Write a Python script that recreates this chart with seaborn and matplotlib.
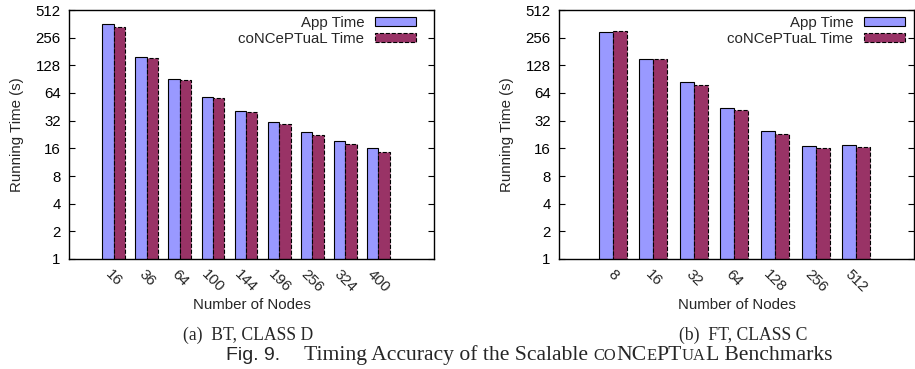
import pandas as pd
import seaborn as sns
import matplotlib
matplotlib.use('Agg')
import matplotlib.pyplot as plt
import matplotlib.patches as mpatches

# (a) BT, CLASS D
bt_nodes = ['16', '36', '64', '100', '144', '196', '256', '324', '400']
bt_app = [360, 158, 90, 58, 41, 31.1, 24, 19.4, 16.0]
bt_cnc = [334, 152, 87.6, 56, 39.3, 29.3, 22.6, 17.9, 14.6]

# (b) FT, CLASS C
ft_nodes = ['8', '16', '32', '64', '128', '256', '512']
ft_app = [294, 150, 84, 43.7, 24.4, 16.9, 17.6]
ft_cnc = [300, 150, 79, 42, 23.2, 16.3, 16.6]

series_names = ['App Time', 'coNCePTuaL Time']
y_ticks = [1, 2, 4, 8, 16, 32, 64, 128, 256, 512]

app_color = '#9999ff'
cnc_color = '#993366'

sns.set_theme(style="ticks")
plt.rcParams['font.family'] = ['Liberation Sans', 'DejaVu Sans']
FS = 10.8


def long_df(nodes, app, cnc):
    rows = []
    for n, a, c in zip(nodes, app, cnc):
        rows.append({'nodes': n, 'series': series_names[0], 'time': a})
        rows.append({'nodes': n, 'series': series_names[1], 'time': c})
    return pd.DataFrame(rows)


def draw(ax, nodes, app, cnc, xlim, leg_x, ylab_x):
    df = long_df(nodes, app, cnc)
    sns.barplot(data=df, x='nodes', y='time', hue='series', order=nodes,
                hue_order=series_names, palette=[app_color, cnc_color],
                width=0.69, errorbar=None, ax=ax, legend=False,
                saturation=1)
    for cont, ls in zip(ax.containers, ['-', '--']):
        for p in cont:
            p.set_edgecolor('black')
            p.set_linewidth(0.8)
            p.set_linestyle(ls)
    ax.set_yscale('log', base=2)
    ax.set_ylim(1, 512)
    ax.set_yticks(y_ticks)
    ax.set_yticklabels([str(v) for v in y_ticks], fontsize=FS)
    ax.minorticks_off()
    ax.set_xlim(*xlim)
    ax.set_axisbelow(True)
    ax.tick_params(axis='y', direction='in', length=4, width=0.8,
                   right=True, pad=6, colors='black')
    ax.tick_params(axis='x', length=0, pad=6)
    for lab in ax.get_xticklabels():
        lab.set_rotation(-45)
        lab.set_ha('center')
        lab.set_va('top')
        lab.set_fontsize(FS)
    for s in ax.spines.values():
        s.set_visible(True)
        s.set_linewidth(1.0)
        s.set_color('black')
    ax.set_xlabel('Number of Nodes', fontsize=FS)
    ax.set_ylabel('Running Time (s)', fontsize=FS)
    ax.xaxis.set_label_coords(0.5, -0.157)
    ax.yaxis.set_label_coords(ylab_x, 0.5)
    handles = [
        mpatches.Patch(facecolor=app_color, edgecolor='black', linewidth=0.8,
                       linestyle='-', label=series_names[0]),
        mpatches.Patch(facecolor=cnc_color, edgecolor='black', linewidth=0.8,
                       linestyle='--', label=series_names[1]),
    ]
    ax.legend(handles=handles, loc='upper right', bbox_to_anchor=(leg_x, 0.975),
              frameon=False, markerfirst=False, fontsize=FS, borderpad=0,
              borderaxespad=0, handlelength=2.75, handleheight=0.55,
              handletextpad=0.7, labelspacing=0.12)


fig = plt.figure(figsize=(9.15, 3.69), dpi=100)
ax1 = fig.add_axes([69 / 915, 110 / 369, 365 / 915, 249 / 369])
ax2 = fig.add_axes([559 / 915, 110 / 369, 355 / 915, 249 / 369])

draw(ax1, bt_nodes, bt_app, bt_cnc, (-1.35, 9.68), 0.951, -0.123)
draw(ax2, ft_nodes, ft_app, ft_cnc, (-1.33, 7.43), 0.975, -0.127)

serif = ['Liberation Serif', 'DejaVu Serif']
fig.text(248 / 915, 1 - 340 / 369, '(a)  BT, CLASS D', family=serif,
         fontsize=12.7, ha='center', va='baseline')
fig.text(743 / 915, 1 - 340 / 369, '(b)  FT, CLASS C', family=serif,
         fontsize=12.7, ha='center', va='baseline')

# caption: sans "Fig. 9." then serif text with small caps for the name
renderer = fig.canvas.get_renderer()
base_y = 1 - 360 / 369
fig.text(226 / 915, base_y, 'Fig. 9.', family=['Liberation Sans'],
         fontsize=14, ha='left', va='baseline')
pieces = [
    ('Timing Accuracy of the Scalable ', 15.6),
    ('CO', 11.9),
    ('NC', 15.6),
    ('E', 11.9),
    ('PT', 15.6),
    ('UA', 11.9),
    ('L', 15.6),
    (' Benchmarks', 15.6),
]
x_px = 304
for txt, size in pieces:
    t = fig.text(x_px / 915, base_y, txt, family=serif, fontsize=size,
                 ha='left', va='baseline')
    x_px += t.get_window_extent(renderer).width

fig.savefig('out.png', dpi=100)
